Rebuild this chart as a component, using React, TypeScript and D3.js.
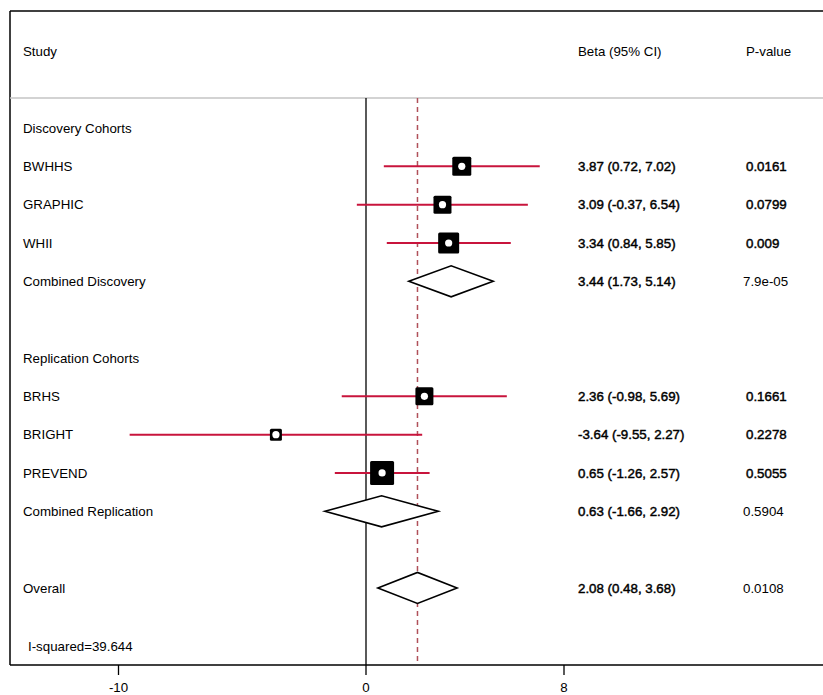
import React from "react";
import * as d3 from "d3";

// Study rows (null estimate = heading / text only)
const studyLabels = [
  "Discovery Cohorts", "BWHHS", "GRAPHIC", "WHII", "Combined Discovery", "",
  "Replication Cohorts", "BRHS", "BRIGHT", "PREVEND", "Combined Replication", "",
  "Overall",
];
const rowKinds = [
  "head", "study", "study", "study", "pooled", "blank",
  "head", "study", "study", "study", "pooled", "blank",
  "pooled",
];
const estimates = [null, 3.87, 3.09, 3.34, 3.44, null, null, 2.36, -3.64, 0.65, 0.63, null, 2.08];
const lowerCI = [null, 0.72, -0.37, 0.84, 1.73, null, null, -0.98, -9.55, -1.26, -1.66, null, 0.48];
const upperCI = [null, 7.02, 6.54, 5.85, 5.14, null, null, 5.69, 2.27, 2.57, 2.92, null, 3.68];
const pValues = ["", "0.0161", "0.0799", "0.009", "7.9e-05", "", "", "0.1661", "0.2278", "0.5055", "0.5904", "", "0.0108"];
// Relative study weights -> box side length
const boxWeights = [0, 19, 18, 21, 0, 0, 0, 18, 12, 24, 0, 0, 0];
const axisTicks = [-10, 0, 8];
const overallEstimate = 2.08;
const iSquaredText = "I-squared=39.644";

const W = 823;
const H = 695;
const frameLeft = 10;
const frameTop = 11;
const axisY = 665;
const headerLineY = 98;
const firstRowY = 128;
const rowStep = 38.33;
const fontFamily = "Liberation Sans, Arial, sans-serif";
const fontSize = 13.3;
const ciColor = "#c8143c";
const refColor = "#b0505a";

// plain hyphen-minus, two decimals
const fmt = (v: number) => d3.format(".2f")(v).replace("\u2212", "-");

export default function App() {
  const x = d3.scaleLinear().domain([0, 8]).range([366, 564]);
  const rowY = (i: number) => firstRowY + i * rowStep;
  const heavy = { stroke: "#000", strokeWidth: 0.45 };

  return (
    <svg width={W} height={H} style={{ position: "absolute", left: 0, top: 0, background: "#fff" }}
      fontFamily={fontFamily} fontSize={fontSize}>
      {/* frame */}
      <line x1={frameLeft} x2={W} y1={frameTop} y2={frameTop} stroke="#000" strokeWidth={1.5} />
      <line x1={frameLeft} x2={frameLeft} y1={frameTop} y2={axisY} stroke="#000" strokeWidth={1.5} />
      <line x1={frameLeft} x2={W} y1={headerLineY} y2={headerLineY} stroke="#c4c4c4" strokeWidth={1.5} />

      {/* header */}
      <text x={23} y={51} dy="0.35em">Study</text>
      <text x={578} y={51} dy="0.35em">Beta (95% CI)</text>
      <text x={746} y={51} dy="0.35em">P-value</text>

      {/* null line and overall estimate line */}
      <line x1={x(0)} x2={x(0)} y1={headerLineY} y2={axisY} stroke="#000" strokeWidth={1.3} />
      <line x1={x(overallEstimate)} x2={x(overallEstimate)} y1={headerLineY} y2={axisY}
        stroke={refColor} strokeWidth={1.5} strokeDasharray="5,4" />

      {studyLabels.map((lab, i) => {
        const y = rowY(i);
        const kind = rowKinds[i];
        const est = estimates[i];
        const lo = lowerCI[i];
        const hi = upperCI[i];
        return (
          <g key={i}>
            {lab && <text x={23} y={y} dy="0.35em">{lab}</text>}
            {kind === "study" && est != null && lo != null && hi != null && (
              <g>
                <line x1={x(lo)} x2={x(hi)} y1={y} y2={y} stroke={ciColor} strokeWidth={2} />
                <rect x={x(est) - boxWeights[i] / 2} y={y - boxWeights[i] / 2}
                  width={boxWeights[i]} height={boxWeights[i]} rx={1.5} fill="#000" />
                <circle cx={x(est)} cy={y} r={3.6} fill="#fff" />
              </g>
            )}
            {kind === "pooled" && est != null && lo != null && hi != null && (
              <path
                d={`M${x(lo)},${y} L${x(est)},${y - 15.5} L${x(hi)},${y} L${x(est)},${y + 15.5} Z`}
                fill="#fff" stroke="#000" strokeWidth={1.6} strokeLinejoin="miter" />
            )}
            {est != null && lo != null && hi != null && (
              <text x={578} y={y} dy="0.35em" {...heavy}>
                {`${fmt(est)} (${fmt(lo)}, ${fmt(hi)})`}
              </text>
            )}
            {pValues[i] && (
              <text x={kind === "pooled" ? 743 : 746} y={y} dy="0.35em"
                {...(kind === "study" ? heavy : {})}>
                {pValues[i]}
              </text>
            )}
          </g>
        );
      })}

      <text x={28} y={646} dy="0.35em">{iSquaredText}</text>

      {/* x axis */}
      <line x1={frameLeft} x2={W} y1={axisY} y2={axisY} stroke="#000" strokeWidth={1.5} />
      {axisTicks.map((t) => (
        <g key={t}>
          <line x1={x(t)} x2={x(t)} y1={axisY} y2={axisY + 10} stroke="#000" strokeWidth={1.3} />
          <text x={x(t)} y={687} dy="0.35em" textAnchor="middle">{String(t)}</text>
        </g>
      ))}
    </svg>
  );
}
